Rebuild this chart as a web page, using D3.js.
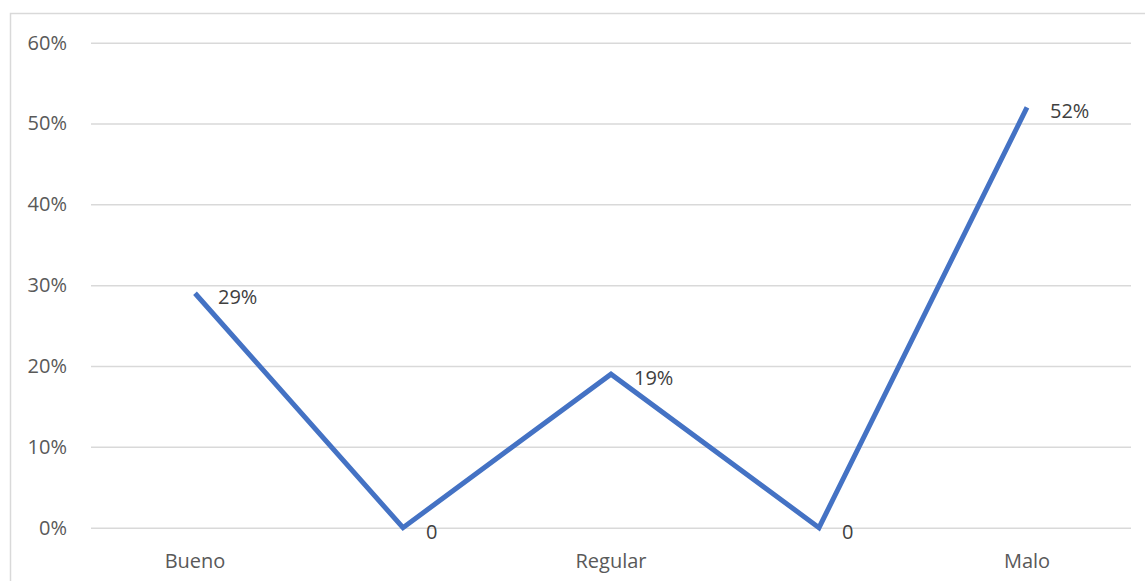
<!DOCTYPE html>
<html><head><meta charset="utf-8">
<script src="https://cdn.jsdelivr.net/npm/d3@7"></script>
<style>body{margin:0;background:#fff;}svg{display:block;font-family:"Open Sans",sans-serif;}</style>
</head><body>
<svg id="c" width="1145" height="581"></svg>
<script>
const categories = ["Bueno", "", "Regular", "", "Malo"];
const values = [0.29, 0, 0.19, 0, 0.52];
const dataLabels = ["29%", "0", "19%", "0", "52%"];
const yTicks = [0, 0.1, 0.2, 0.3, 0.4, 0.5, 0.6];

const svg = d3.select("#c");
const W = 1145, H = 581;
const m = {left: 91, right: 14, top: 42.7, bottom: 53.3};

svg.append("rect").attr("x", 10.5).attr("y", 13.5).attr("width", W).attr("height", H)
  .attr("fill", "#fff").attr("stroke", "#d9d9d9").attr("stroke-width", 1.5);

const x = d3.scaleBand().domain(d3.range(categories.length)).range([m.left, W - m.right]);
const y = d3.scaleLinear().domain([0, 0.6]).range([H - m.bottom, m.top]);

const yAxis = svg.append("g").attr("transform", `translate(${m.left},0)`)
  .call(d3.axisLeft(y).tickValues(yTicks).tickFormat(d3.format(".0%")).tickSize(-(W - m.right - m.left)).tickPadding(24));
yAxis.select(".domain").remove();
yAxis.selectAll(".tick line").attr("stroke", "#d9d9d9").attr("stroke-width", 1.5);
yAxis.selectAll(".tick text").attr("fill", "#595959").style("font-size", "20px").style("font-family", "'Open Sans',sans-serif");

const xAxis = svg.append("g").attr("transform", `translate(0,${H - m.bottom})`)
  .call(d3.axisBottom(x).tickFormat(i => categories[i]).tickSize(0).tickPadding(26));
xAxis.select(".domain").remove();
xAxis.selectAll(".tick text").attr("fill", "#595959").style("font-size", "20px").style("font-family", "'Open Sans',sans-serif");

const cx = i => x(i) + x.bandwidth() / 2;
const line = d3.line().x((d, i) => cx(i)).y(d => y(d));
svg.append("path").datum(values).attr("d", line)
  .attr("fill", "none").attr("stroke", "#4472C4").attr("stroke-width", 5).attr("stroke-linejoin", "miter");

svg.append("g").selectAll("text").data(values).join("text")
  .attr("x", (d, i) => cx(i) + 23).attr("y", d => y(d) + 4)
  .attr("dy", "0.35em").attr("fill", "#404040").style("font-size", "20px")
  .text((d, i) => dataLabels[i]);
</script>
</body></html>
